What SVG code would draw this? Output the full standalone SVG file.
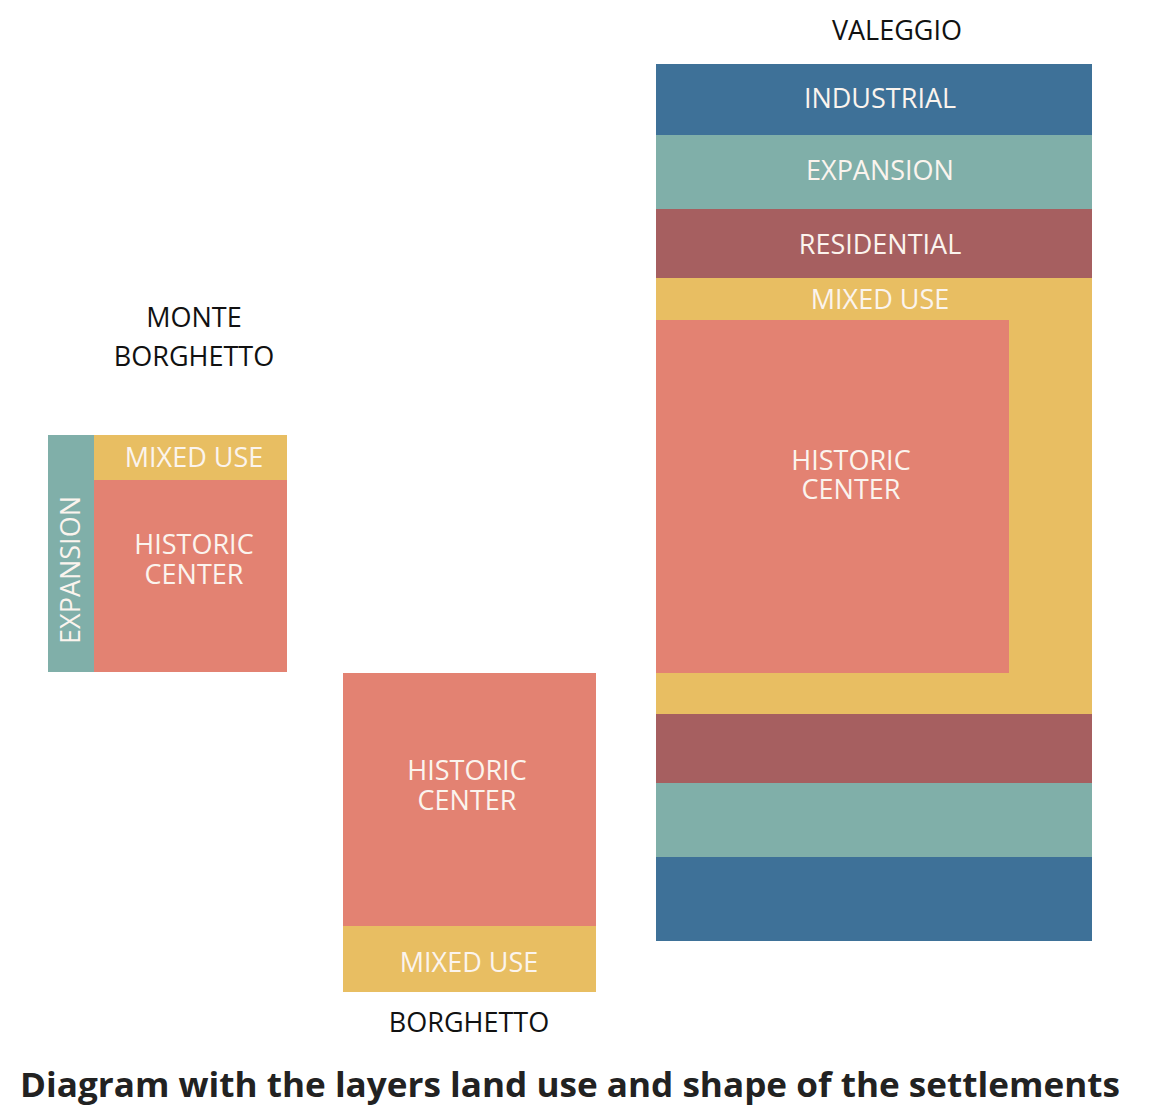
<svg xmlns="http://www.w3.org/2000/svg" width="1165" height="1115" viewBox="0 0 1165 1115">
<style>
.ind{fill:#3E7198}.exp{fill:#80AFA9}.res{fill:#A65F60}.mix{fill:#E8BE62}.his{fill:#E38272}
.wl{font-family:"Open Sans","Noto Sans",sans-serif;font-size:27px;fill:#FBF4EE;text-anchor:middle;font-weight:400}
.bl{font-family:"Open Sans","Noto Sans",sans-serif;font-size:27px;fill:#111;text-anchor:middle}
.title{font-family:"Open Sans","Noto Sans",sans-serif;font-size:34px;font-weight:700;fill:#222;text-anchor:middle}
</style>
<rect width="1165" height="1115" fill="#fff"/>
<g id="valeggio">
<rect class="ind" x="656" y="64" width="436" height="71"/>
<rect class="exp" x="656" y="135" width="436" height="74"/>
<rect class="res" x="656" y="209" width="436" height="69"/>
<rect class="mix" x="656" y="278" width="436" height="436"/>
<rect class="his" x="656" y="320" width="353" height="353"/>
<rect class="res" x="656" y="714" width="436" height="69"/>
<rect class="exp" x="656" y="783" width="436" height="74"/>
<rect class="ind" x="656" y="857" width="436" height="84"/>
<text class="wl" x="880" y="108">INDUSTRIAL</text>
<text class="wl" x="880" y="180">EXPANSION</text>
<text class="wl" x="880" y="254">RESIDENTIAL</text>
<text class="wl" x="880" y="309">MIXED USE</text>
<text class="wl"><tspan x="851" y="470">HISTORIC</tspan><tspan x="851" y="499">CENTER</tspan></text>
<text class="bl" x="897" y="40">VALEGGIO</text>
</g>
<g id="monte-borghetto">
<rect class="exp" x="48" y="435" width="46" height="237"/>
<rect class="mix" x="94" y="435" width="193" height="45"/>
<rect class="his" x="94" y="480" width="193" height="192"/>
<text class="wl" x="194" y="467">MIXED USE</text>
<text class="wl"><tspan x="194" y="554">HISTORIC</tspan><tspan x="194" y="584">CENTER</tspan></text>
<text class="wl" transform="translate(80 570) rotate(-90)" x="0" y="0">EXPANSION</text>
<text class="bl"><tspan x="194" y="327">MONTE</tspan><tspan x="194" y="366">BORGHETTO</tspan></text>
</g>
<g id="borghetto">
<rect class="his" x="343" y="673" width="253" height="253"/>
<rect class="mix" x="343" y="926" width="253" height="66"/>
<text class="wl"><tspan x="467" y="780">HISTORIC</tspan><tspan x="467" y="810">CENTER</tspan></text>
<text class="wl" x="469" y="972">MIXED USE</text>
<text class="bl" x="469" y="1032">BORGHETTO</text>
</g>
<g id="connectors"/>
<text class="title" x="570" y="1097" textLength="1100" lengthAdjust="spacingAndGlyphs">Diagram with the layers land use and shape of the settlements</text>
</svg>
